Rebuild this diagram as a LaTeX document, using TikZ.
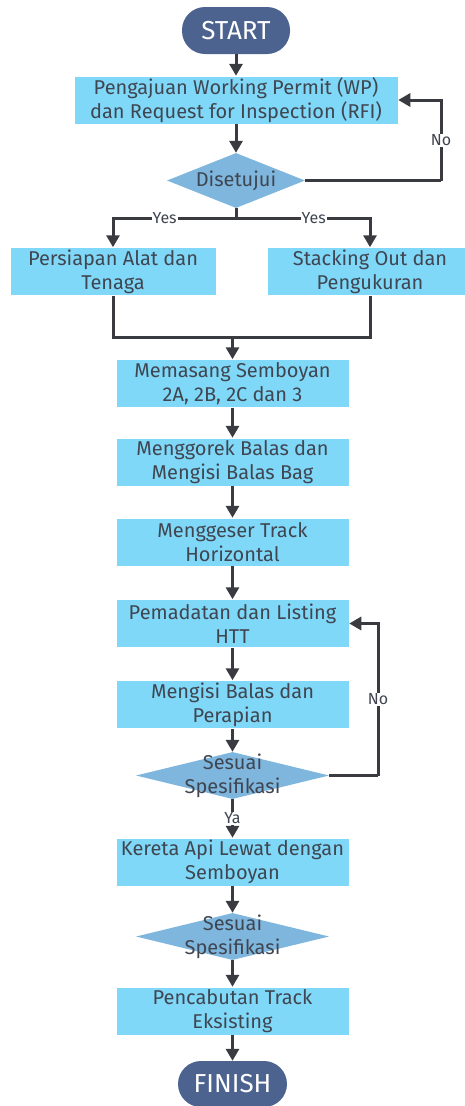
\documentclass[tikz,border=0pt]{standalone}
\usepackage{fontspec}
\setmainfont{Fira Sans}
\usetikzlibrary{arrows.meta,shapes.geometric}
\definecolor{boxc}{HTML}{80D8F8}
\definecolor{diac}{HTML}{7EB6DE}
\definecolor{termc}{HTML}{4C6390}
\definecolor{txtc}{HTML}{3F4651}
\definecolor{linec}{HTML}{3A3B40}
\tikzset{
  stepbox/.style={rectangle, fill=boxc, draw=white, line width=0.5pt, minimum height=48pt, inner sep=0pt, align=center, text=txtc, font=\fontsize{20}{24}\selectfont},
  term/.style={rectangle, rounded corners=23pt, fill=termc, minimum width=108pt, minimum height=47pt, inner sep=0pt, text=white, font=\fontsize{26}{28}\selectfont},
  dia/.style={diamond, fill=diac, inner sep=0pt, aspect=1},
  diatxt/.style={align=center, text=txtc, font=\fontsize{20}{24}\selectfont, inner sep=0pt},
  conn/.style={draw=linec, line width=3pt},
  arr/.style={conn, -{Triangle[length=12pt,width=13pt]}},
  lbl/.style={fill=white, text=txtc, font=\fontsize{16}{18}\selectfont, inner sep=1pt},
}
\begin{document}
\begin{tikzpicture}[x=1pt,y=-1pt]
\useasboundingbox (0,0) rectangle (464,1106);
\node[term] (start) at (236,30.5) {START};
\node[stepbox, minimum width=324pt] (b1) at (236,100) {Pengajuan Working Permit (WP)\\dan Request for Inspection (RFI)};
\node[dia, minimum width=138pt, minimum height=55pt] (d1) at (236,180.5) {};
\node[diatxt] at (d1) {Disetujui};
\node[stepbox, minimum width=206pt] (p1) at (113,271.5) {Persiapan Alat dan\\Tenaga};
\node[stepbox, minimum width=206pt] (p2) at (370,271.5) {Stacking Out dan\\Pengukuran};
\node[stepbox, minimum width=233pt] (m1) at (232.5,383.5) {Memasang Semboyan\\2A, 2B, 2C dan 3};
\node[stepbox, minimum width=233pt] (m2) at (232.5,462) {Menggorek Balas dan\\Mengisi Balas Bag};
\node[stepbox, minimum width=233pt] (m3) at (232.5,542) {Menggeser Track\\Horizontal};
\node[stepbox, minimum width=233pt] (m4) at (232.5,623.5) {Pemadatan dan Listing\\HTT};
\node[stepbox, minimum width=233pt] (m5) at (232.5,704.5) {Mengisi Balas dan\\Perapian};
\node[dia, minimum width=193pt, minimum height=47pt] (d2) at (232.5,775.5) {};
\node[diatxt] at (d2) {Sesuai\\Spesifikasi};
\node[stepbox, minimum width=233pt] (m6) at (232.5,862) {Kereta Api Lewat dengan\\Semboyan};
\node[dia, minimum width=193pt, minimum height=47pt] (d3) at (232.5,936.5) {};
\node[diatxt] at (d3) {Sesuai\\Spesifikasi};
\node[stepbox, minimum width=233pt] (m7) at (232.5,1011) {Pencabutan Track\\Eksisting};
\node[term, minimum width=109pt, minimum height=46pt] (finish) at (232.5,1084) {FINISH};

\coordinate (n1) at (441,180.5);
\coordinate (j1) at (236,218);
\coordinate (j2) at (232.5,337);
\coordinate (n2) at (378,775.5);

\draw[arr] (start) -- (b1);
\draw[arr] (b1) -- (d1);
\draw[conn] (d1.east) -- (n1);
\draw[arr] (n1) |- node[lbl, pos=0.25] {No} (b1.east);
\draw[conn] (d1.south) -- (j1);
\draw[arr] (j1) -| node[lbl, pos=0.29] {Yes} (p1.north);
\draw[arr] (j1) -| node[lbl, pos=0.29] {Yes} (p2.north);
\draw[conn] (p1.south) |- (j2);
\draw[conn] (p2.south) |- (j2);
\draw[arr] (j2) -- (m1.north);
\draw[arr] (m1) -- (m2);
\draw[arr] (m2) -- (m3);
\draw[arr] (m3) -- (m4);
\draw[arr] (m4) -- (m5);
\draw[arr] (m5) -- (d2.north);
\draw[conn] (d2.east) -- (n2);
\draw[arr] (n2) |- node[lbl, pos=0.25] {No} (m4.east);
\draw[arr] (d2.south) -- node[lbl] {Ya} (m6.north);
\draw[arr] (m6) -- (d3.north);
\draw[arr] (d3.south) -- (m7);
\draw[arr] (m7) -- (finish);
\end{tikzpicture}
\end{document}
